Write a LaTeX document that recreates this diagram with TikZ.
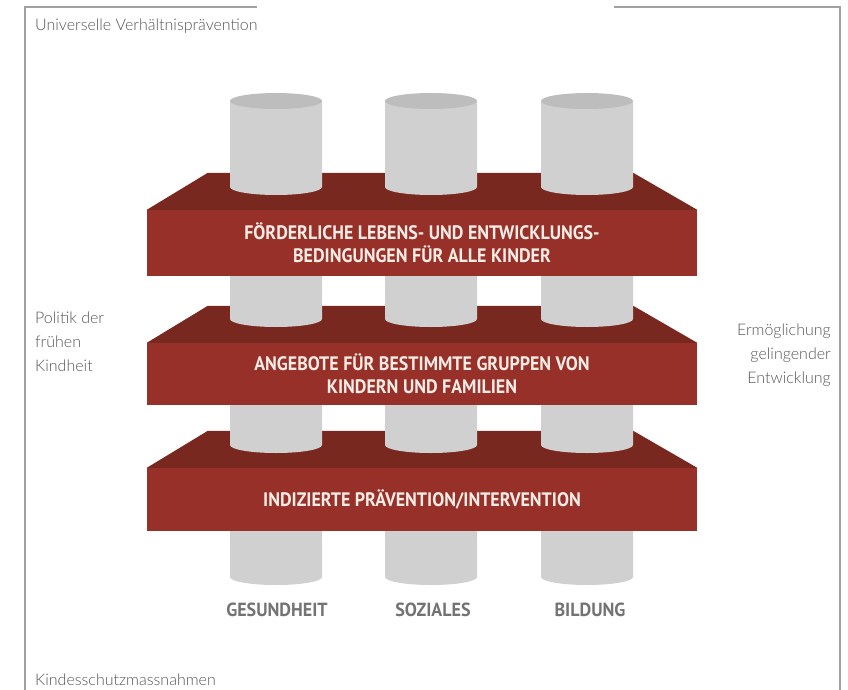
\documentclass[tikz,border=0pt]{standalone}
\usepackage{fontspec}
\usepackage{xcolor}
\usepackage{tikz}
\usetikzlibrary{shapes,arrows,positioning,fit,calc}

\newfontfamily\thinfont{Lato Light}
\newfontfamily\slabfont{PT Sans}[UprightFont=* Bold, FakeStretch=0.92]
\newfontfamily\labelfont{PT Sans}[UprightFont=* Bold, FakeStretch=0.95]

\definecolor{slabred}{HTML}{963028}
\definecolor{slabdark}{HTML}{78281F}
\definecolor{slabtext}{HTML}{F5ECE6}
\definecolor{pillargray}{HTML}{D0D0D0}
\definecolor{pillarcap}{HTML}{BDBDBD}
\definecolor{framegray}{HTML}{A0A0A0}
\definecolor{labelgray}{HTML}{737373}
\definecolor{sidegray}{HTML}{555555}

\begin{document}
\begin{tikzpicture}[
    x=1pt, y=-1pt,
    slab/.style={rectangle, fill=slabred, minimum width=550pt, minimum height=66pt, inner sep=0pt, align=center, text=slabtext, font=\slabfont\fontsize{19.5}{23}\selectfont},
    slabtop/.style={fill=slabdark},
    pillar/.style={fill=pillargray},
    pillarcap/.style={fill=pillarcap},
    sidetext/.style={text=sidegray, inner sep=0pt, font=\thinfont\fontsize{16}{24}\selectfont},
    pillarlabel/.style={text=labelgray, inner sep=0pt, font=\labelfont\fontsize{19}{22}\selectfont},
    frameline/.style={draw=framegray, line width=1.2pt}
]
\useasboundingbox (0,0) rectangle (848,690);

% Frame
\draw[frameline] (257,7) -- (25,7) -- (25,690);
\draw[frameline] (614,7) -- (840,7) -- (840,690);

% Slabs
\node[slab] (foerder) at (422,243) {FÖRDERLICHE LEBENS- UND ENTWICKLUNGS-\\BEDINGUNGEN FÜR ALLE KINDER};
\node[slab, minimum height=62pt] (angebote) at (422,374) {ANGEBOTE FÜR BESTIMMTE GRUPPEN VON\\KINDERN UND FAMILIEN};
\node[slab, minimum height=63pt] (indiziert) at (422,499.5) {INDIZIERTE PRÄVENTION/INTERVENTION};

\foreach \s in {foerder,angebote,indiziert}
  \fill[slabtop] (\s.north west) -- ([xshift=61pt,yshift=37pt]\s.north west)
    -- ([xshift=-64pt,yshift=37pt]\s.north east) -- (\s.north east) -- cycle;

% Pillars
\foreach \px in {276,431,587} {
  \foreach \ytop/\ybot in {101/187, 276/319, 405/445, 531/577}
    \fill[pillar] (\px-46,\ytop) -- (\px-46,\ybot)
      arc[start angle=180, end angle=360, x radius=46pt, y radius=8pt] -- (\px+46,\ytop) -- cycle;
  \fill[pillarcap] (\px,101) ellipse [x radius=46pt, y radius=8pt];
}

% Pillar labels
\node[pillarlabel] (gesundheit) at (277,610) {GESUNDHEIT};
\node[pillarlabel] (soziales) at (433,610) {SOZIALES};
\node[pillarlabel] (bildung) at (590,610) {BILDUNG};

% Side texts
\node[sidetext, anchor=west] (universell) at (35,26) {Universelle Verhältnisprävention};
\node[sidetext, anchor=west, align=left] (politik) at (35,342) {Politik der\\frühen\\Kindheit};
\node[sidetext, anchor=east, align=right] (ermoeglichung) at (831,355) {Ermöglichung\\gelingender\\Entwicklung};
\node[sidetext, anchor=west] (kindesschutz) at (35,680) {Kindesschutzmassnahmen};

\end{tikzpicture}
\end{document}
